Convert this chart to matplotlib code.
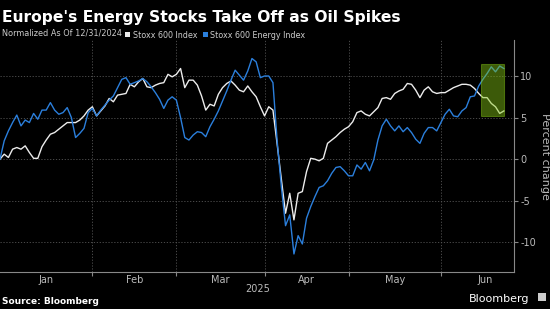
import matplotlib
matplotlib.use("Agg")
import matplotlib.pyplot as plt
from matplotlib.patches import Patch, Rectangle
import numpy as np
import pandas as pd

# trading days shown (Easter holidays closed)
holidays = ["2025-04-18", "2025-04-21"]
dates = pd.bdate_range("2025-01-02", "2025-06-23")
dates = dates[~dates.isin(pd.to_datetime(holidays))]

# percent change, normalized as of 12/31/2024
stoxx600 = [
    0.0, 0.6, 0.2, 1.2, 1.4, 1.2, 1.6, 0.8, 0.1, 0.1,
    1.5, 2.3, 3.0, 3.2, 3.6, 4.0, 4.4, 4.4, 4.4, 4.7,
    5.2, 5.9, 6.3, 5.2, 5.8, 6.4, 7.3, 6.9, 7.7, 7.8,
    7.9, 9.0, 8.7, 9.3, 9.7, 8.7, 8.6, 8.9, 9.1, 9.2,
    10.2, 9.9, 10.2, 10.9, 8.6, 9.5, 9.5, 8.9, 7.6, 5.9,
    6.6, 6.4, 7.8, 8.6, 9.1, 9.4, 8.9, 8.3, 8.1, 8.8,
    8.1, 7.5, 6.3, 5.2, 6.3, 5.9, 1.8, -2.4, -6.5, -4.1,
    -7.3, -4.1, -3.9, -1.5, 0.1, 0.0, -0.2, 0.1, 1.9, 2.3,
    2.7, 3.2, 3.6, 3.9, 4.5, 5.6, 5.8, 5.4, 5.2, 5.7,
    6.2, 7.3, 7.4, 7.2, 7.9, 8.2, 8.4, 9.1, 9.0, 8.3,
    7.4, 8.3, 8.7, 8.1, 7.9, 8.0, 8.0, 8.3, 8.6, 8.8,
    9.0, 9.0, 8.9, 8.5, 7.9, 7.4, 7.4, 6.7, 6.3, 5.5,
    5.8,
]
energy = [
    0.0, 2.2, 3.4, 4.4, 5.3, 4.0, 4.7, 4.4, 5.5, 4.8,
    5.9, 5.9, 6.8, 5.9, 5.4, 5.6, 6.2, 5.0, 2.6, 3.1,
    3.7, 5.6, 6.1, 5.2, 5.9, 6.5, 7.1, 7.6, 8.6, 9.6,
    9.8, 9.0, 9.2, 9.4, 9.7, 9.3, 8.7, 8.0, 7.2, 6.1,
    7.1, 7.5, 7.1, 5.0, 2.6, 2.3, 2.9, 3.3, 3.2, 2.7,
    3.9, 4.8, 5.8, 7.0, 8.2, 9.5, 10.7, 10.1, 9.5, 10.6,
    12.1, 11.7, 9.8, 10.0, 10.0, 9.2, 2.2, -3.3, -8.0, -6.7,
    -11.4, -9.2, -10.2, -7.1, -5.7, -4.5, -3.4, -3.2, -2.6, -1.7,
    -1.0, -0.9, -1.4, -2.0, -2.0, -0.7, -1.2, -0.4, -1.4, -0.1,
    2.3, 4.0, 4.8, 4.0, 3.4, 4.0, 3.3, 3.8, 3.2, 2.4,
    1.9, 3.1, 3.8, 3.8, 3.4, 4.4, 5.4, 6.0, 5.2, 5.1,
    5.8, 6.2, 7.5, 7.6, 8.8, 9.6, 10.3, 11.1, 10.5, 11.2,
    10.9,
]
series_names = ["Stoxx 600 Index", "Stoxx 600 Energy Index"]
series_colors = ["#ececec", "#2b7fdc"]
yticks = [-10, -5, 0, 5, 10]
# highlighted window (index range and value range of the box)
hl_x = [114.5, 120.0]
hl_y = [5.2, 11.45]

x = np.arange(len(dates))

fig = plt.figure(figsize=(5.5, 3.09), dpi=100, facecolor="black")
ax = fig.add_axes([0.0, 0.1197, 0.9345, 0.7509], facecolor="black")

ax.plot(x, stoxx600, color=series_colors[0], lw=1.0, zorder=3)
ax.plot(x, energy, color=series_colors[1], lw=1.0, zorder=3)

ax.add_patch(Rectangle((hl_x[0], hl_y[0]), hl_x[1] - hl_x[0], hl_y[1] - hl_y[0],
                       facecolor="#86c814", alpha=0.45, edgecolor="#86c814",
                       lw=0.8, zorder=4))

ax.set_xlim(0, 122.4)
ax.set_ylim(-13.57, 14.33)

# month boundaries and label centres from the trading calendar
months = dates.month
starts = [i for i in range(1, len(x)) if months[i] != months[i - 1]]
first = [0] + starts
full_counts = []
for m in sorted(set(months)):
    cal = pd.bdate_range(f"2025-{m:02d}-01", periods=31, freq="B")
    cal = cal[(cal.month == m) & ~cal.isin(pd.to_datetime(holidays + ["2025-01-01"]))]
    full_counts.append(len(cal))
centers = [f + c / 2 for f, c in zip(first, full_counts)]
labels = [d.strftime("%b") for d in dates[first]]

ax.set_xticks(starts)
ax.set_xticklabels([])
ax.set_xticks(centers, minor=True)
ax.set_xticklabels(labels, minor=True)
ax.tick_params(axis="x", which="major", length=3, color="#888888", width=0.8)
ax.tick_params(axis="x", which="minor", length=0, labelsize=7, colors="#bbbbbb", pad=2)

ax.yaxis.tick_right()
ax.yaxis.set_label_position("right")
ax.set_yticks(yticks)
ax.set_yticklabels([str(t) for t in yticks])
ax.tick_params(axis="y", length=3, color="#888888", width=0.8, labelsize=7,
               labelcolor="#bbbbbb", pad=1.5)
ax.set_ylabel("Percent change", rotation=270, color="#bbbbbb", fontsize=8, labelpad=10)

ax.grid(True, color="#555555", ls=(0, (1.5, 2)), lw=0.6)
for s in ["top", "left"]:
    ax.spines[s].set_visible(False)
for s in ["right", "bottom"]:
    ax.spines[s].set_color("#888888")
    ax.spines[s].set_linewidth(0.8)

fig.text(0.004, 0.93, "Europe's Energy Stocks Take Off as Oil Spikes", color="white",
         fontsize=11.2, fontweight="bold", va="baseline")
fig.text(0.004, 0.885, "Normalized As Of 12/31/2024", color="#cccccc", fontsize=5.9,
         va="baseline")
handles = [Patch(facecolor=c, edgecolor="none") for c in series_colors]
fig.legend(handles, series_names, loc="lower left", bbox_to_anchor=(0.227, 0.872),
           ncol=2, frameon=False, fontsize=5.8, labelcolor="#cccccc",
           handlelength=0.65, handleheight=0.65, handletextpad=0.3,
           columnspacing=0.7, borderpad=0, borderaxespad=0)

fig.text(0.468, 0.055, "2025", color="#bbbbbb", fontsize=7, ha="center")
fig.text(0.004, 0.015, "Source: Bloomberg", color="white", fontsize=6.5,
         fontweight="bold")
fig.text(0.962, 0.022, "Bloomberg", color="white", fontsize=8, ha="right")
fig.patches.append(Rectangle((0.978, 0.025), 0.014, 0.028, transform=fig.transFigure,
                             facecolor="#cccccc", edgecolor="none"))

fig.savefig("out.png", dpi=100, facecolor="black")
